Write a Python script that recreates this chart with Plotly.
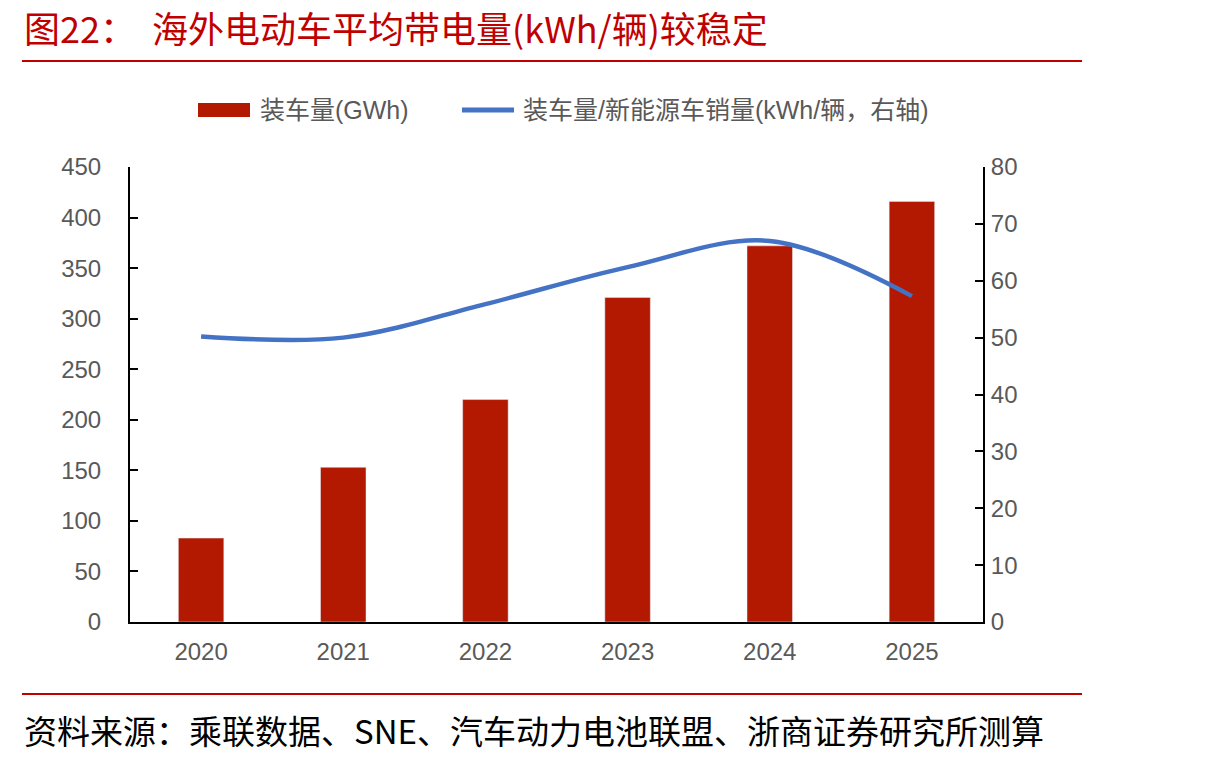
import plotly.graph_objects as go

years = ["2020", "2021", "2022", "2023", "2024", "2025"]
installed_gwh = [83, 153, 220, 321, 372, 416]
kwh_per_vehicle = [50.2, 50.0, 55.9, 62.4, 67.0, 57.3]

left_ticks = list(range(0, 451, 50))
right_ticks = list(range(0, 81, 10))

title_text = "图22：  海外电动车平均带电量(kWh/辆)较稳定"
source_text = "资料来源：乘联数据、SNE、汽车动力电池联盟、浙商证券研究所测算"
bar_name = "装车量(GWh)"
line_name = "装车量/新能源车销量(kWh/辆，右轴)"

RED = "#C00000"
BAR = "#B31800"
BLUE = "#4472C4"
GREY = "#595959"
FONT = "Liberation Sans, Noto Sans CJK SC, sans-serif"
CJK = "Noto Sans CJK SC, sans-serif"

fig = go.Figure()
fig.add_trace(go.Bar(x=years, y=installed_gwh, name=bar_name, marker_color=BAR,
                     width=0.32, showlegend=False))
fig.add_trace(go.Scatter(x=years, y=kwh_per_vehicle, name=line_name, yaxis="y2",
                         mode="lines", line=dict(color=BLUE, width=4.5, shape="spline", smoothing=1.0),
                         showlegend=False))

fig.update_layout(
    width=1210, height=762,
    margin=dict(l=130, r=227, t=167, b=140),
    paper_bgcolor="white", plot_bgcolor="white",
    font=dict(family=FONT, size=24, color=GREY),
    xaxis=dict(type="category", range=[-0.5, 5.5], showline=True, linecolor="black", linewidth=2,
               ticks="", showgrid=False, tickfont=dict(size=24, color=GREY), ticklabelstandoff=7),
    yaxis=dict(range=[0, 450], tickvals=left_ticks, showline=True, linecolor="black", linewidth=2,
               ticks="inside", ticklen=8, tickwidth=2, tickcolor="black", showgrid=False,
               zeroline=False, tickfont=dict(size=24, color=GREY), ticklabelstandoff=22),
    yaxis2=dict(range=[0, 80], tickvals=right_ticks, overlaying="y", side="right", showline=True,
                linecolor="black", linewidth=2, ticks="inside", ticklen=8, tickwidth=2,
                tickcolor="black", showgrid=False, zeroline=False,
                tickfont=dict(size=24, color=GREY), ticklabelstandoff=1),
    bargap=0.68,
)


def px_x(px):
    return (px - 130) / (983 - 130)


def px_y(py):
    return (622 - py) / (622 - 167)


# Title, rules, source
fig.add_annotation(x=px_x(22), y=px_y(27), xref="paper", yref="paper", text=title_text,
                   showarrow=False, xanchor="left", yanchor="middle",
                   font=dict(family=CJK, size=36, color=RED))
fig.add_shape(type="line", xref="paper", yref="paper", x0=px_x(22), x1=px_x(1082),
              y0=px_y(61), y1=px_y(61), line=dict(color=RED, width=2))
fig.add_shape(type="line", xref="paper", yref="paper", x0=px_x(22), x1=px_x(1082),
              y0=px_y(694), y1=px_y(694), line=dict(color=RED, width=2))
fig.add_annotation(x=px_x(22), y=px_y(730), xref="paper", yref="paper", text=source_text,
                   showarrow=False, xanchor="left", yanchor="middle",
                   font=dict(family=CJK, size=33, color="black"))

# Legend (manual)
fig.add_shape(type="rect", xref="paper", yref="paper", x0=px_x(198), x1=px_x(250),
              y0=px_y(117), y1=px_y(103), fillcolor=BAR, line=dict(width=0))
fig.add_annotation(x=px_x(258), y=px_y(110), xref="paper", yref="paper", text=bar_name,
                   showarrow=False, xanchor="left", yanchor="middle",
                   font=dict(family=FONT, size=25, color=GREY))
fig.add_shape(type="line", xref="paper", yref="paper", x0=px_x(462), x1=px_x(514),
              y0=px_y(110), y1=px_y(110), line=dict(color=BLUE, width=5))
fig.add_annotation(x=px_x(521), y=px_y(110), xref="paper", yref="paper", text=line_name,
                   showarrow=False, xanchor="left", yanchor="middle",
                   font=dict(family=FONT, size=25, color=GREY))

fig.write_html("out.html")
